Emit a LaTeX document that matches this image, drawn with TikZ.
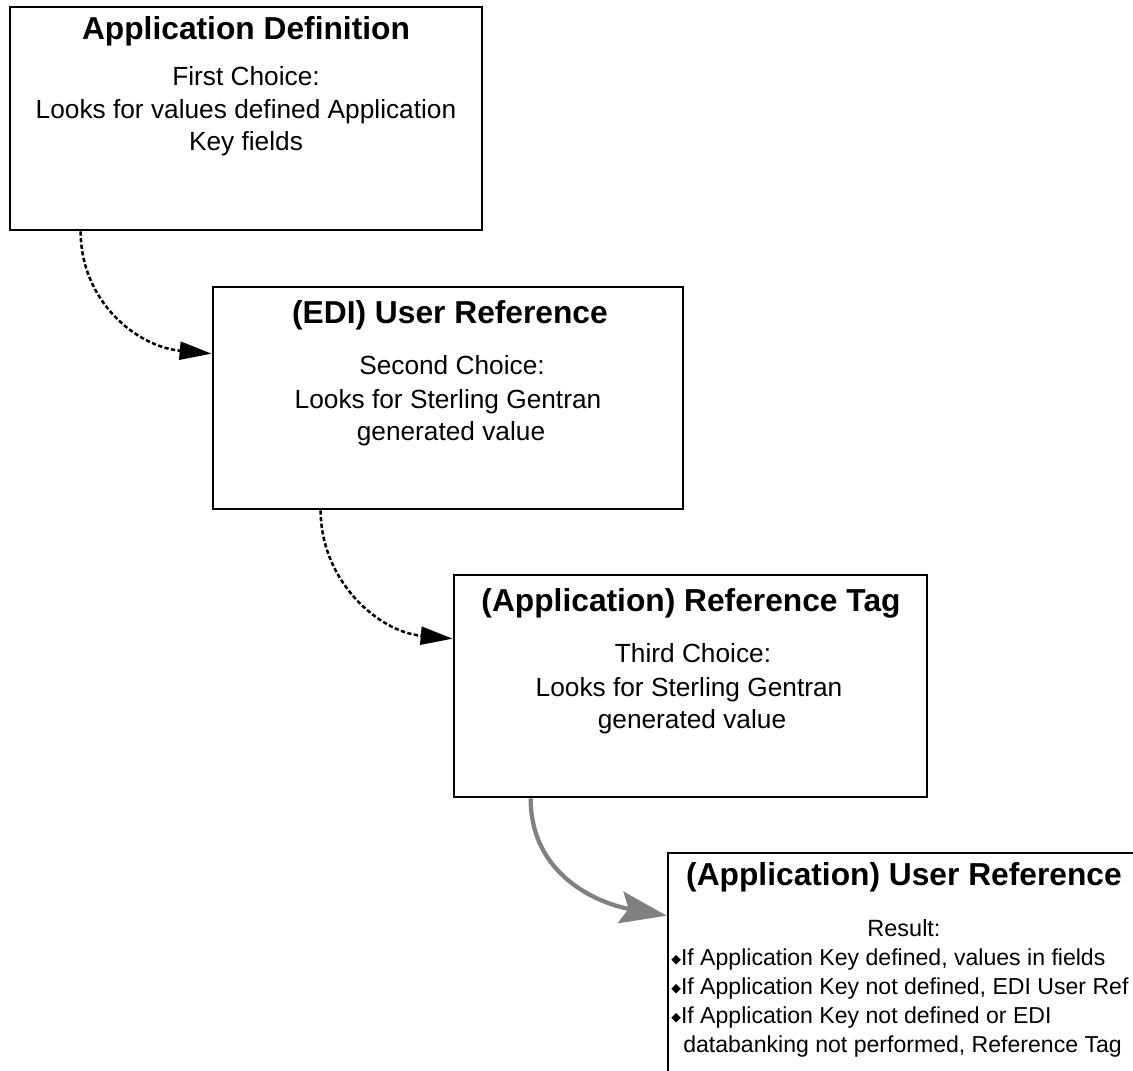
\documentclass[tikz,border=0pt]{standalone}
\usepackage{fontspec}
\setmainfont{Liberation Sans}
\newfontfamily\symfont{DejaVu Sans}
\usetikzlibrary{arrows.meta}
\definecolor{linkgrey}{RGB}{128,128,128}
\newcommand\dbullet{{\symfont\fontsize{9.5}{10}\selectfont\raisebox{1.4pt}{◆}}}
\begin{document}
\begin{tikzpicture}[x=0.75pt,y=-0.75pt,
  box/.style={draw=black,line width=2pt,rectangle,inner sep=0pt},
  title/.style={anchor=base,inner sep=0pt,font=\bfseries\fontsize{23.8}{28}\selectfont},
  body/.style={anchor=base,inner sep=0pt,font=\fontsize{19.7}{24}\selectfont},
  result/.style={anchor=base west,inner sep=0pt,font=\fontsize{17.3}{21.5}\selectfont},
  dotlink/.style={line width=1.9pt,dash pattern=on 3.2pt off 1.8pt,
    -{Triangle[length=24pt,width=13.5pt]}},
  greylink/.style={draw=linkgrey,line width=3.2pt,
    -{Stealth[length=35pt,width=24pt,inset=6pt]}}]

\clip (0,0) rectangle (1133,1071);

% the four boxes
\node[box,minimum width=472*0.75pt,minimum height=223*0.75pt] (b1) at (246,118.5) {};
\node[box,minimum width=470*0.75pt,minimum height=222*0.75pt] (b2) at (448,398) {};
\node[box,minimum width=473*0.75pt,minimum height=222*0.75pt] (b3) at (690.5,686) {};
\node[box,minimum width=472*0.75pt,minimum height=223*0.75pt] (b4) at (904,964.5) {};

% first box
\node[title] (t1)  at (246,39)  {Application Definition};
\node[body]  (t1a) at (246,85)  {First Choice:};
\node[body]  (t1b) at (246,118) {Looks for values defined Application};
\node[body]  (t1c) at (246,150) {Key fields};

% second box
\node[title] (t2)  at (450,323) {(EDI) User Reference};
\node[body]  (t2a) at (452,374) {Second Choice:};
\node[body]  (t2b) at (448,408) {Looks for Sterling Gentran};
\node[body]  (t2c) at (451,440) {generated value};

% third box
\node[title] (t3)  at (691,611) {(Application) Reference Tag};
\node[body]  (t3a) at (693,662) {Third Choice:};
\node[body]  (t3b) at (689,696) {Looks for Sterling Gentran};
\node[body]  (t3c) at (692,728) {generated value};

% result box
\node[title] (t4)  at (904,885) {(Application) User Reference};
\node[body,font=\fontsize{17.6}{21.5}\selectfont] (t4a) at (904,936) {Result:};
\node[result] (t4b) at (671,965)  {\dbullet If Application Key defined, values in fields};
\node[result] (t4c) at (671,994)  {\dbullet If Application Key not defined, EDI User Ref};
\node[result] (t4d) at (671,1023) {\dbullet If Application Key not defined or EDI};
\node[result] (t4e) at (683,1052) {databanking not performed, Reference Tag};

% fallback chain
\draw[dotlink] ([xshift=72*0.75pt]b1.south west)
  .. controls +(0,70) and +(-75,-7) .. ([yshift=-68*0.75pt]b2.north west);
\draw[dotlink] ([xshift=109*0.75pt]b2.south west)
  .. controls +(0,70) and +(-75,-7) .. ([yshift=-65*0.75pt]b3.north west);
\draw[greylink] ([xshift=78*0.75pt]b3.south west)
  .. controls +(0,78) and +(-67,-12) .. ([yshift=-64*0.75pt]b4.north west);
\end{tikzpicture}
\end{document}
